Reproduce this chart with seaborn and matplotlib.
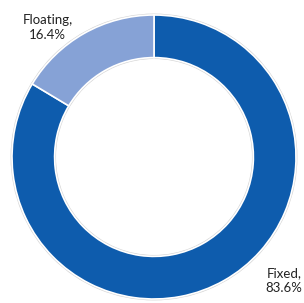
import matplotlib
matplotlib.use("Agg")
import matplotlib.pyplot as plt
import seaborn as sns

categories = ["Fixed", "Floating"]
shares = [83.6, 16.4]
colors = ["#0E5CAD", "#86A2D6"]

sns.set_theme(style="white")
plt.rcParams['font.family'] = ['Lato', 'DejaVu Sans']

fig = plt.figure(figsize=(3.04, 3.03), dpi=100)
cx, cy, r = 154, 157, 142  # ring centre and radius in pixels
pad = 1.015
h = r * pad
ax = fig.add_axes([(cx - h) / 304, (303 - cy - h) / 303, 2 * h / 304, 2 * h / 303])

# faint shadow behind the ring
ax.pie([1], colors=["#d4d4d4"], radius=1.01,
       wedgeprops=dict(width=0.32, linewidth=0))
ax.pie(shares, colors=colors, startangle=90, counterclock=False, radius=1,
       wedgeprops=dict(width=0.30, edgecolor="white", linewidth=1.2))
ax.set_xlim(-pad, pad)
ax.set_ylim(-pad, pad)
ax.set_aspect("auto")
ax.axis("off")

# labels placed outside the ring
label_pos = {"Floating": (-0.750, 0.915), "Fixed": (0.915, -0.873)}
for name, val in zip(categories, shares):
    x, y = label_pos[name]
    ax.text(x, y, f"{name},\n{val}%", ha="center", va="center",
            fontsize=9.5, color="#222222", linespacing=1.3)

fig.savefig("out.png", dpi=100, facecolor="white")
